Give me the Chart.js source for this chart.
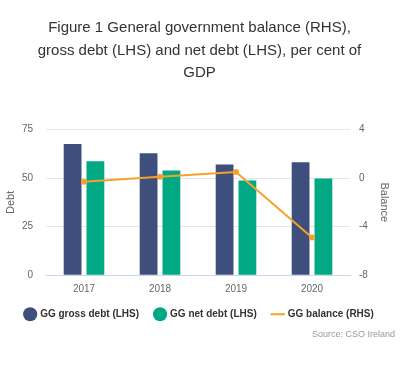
<!DOCTYPE html>
<html>
<head>
<meta charset="utf-8">
<script src="https://cdn.jsdelivr.net/npm/chart.js@4/dist/chart.umd.min.js"></script>
<style>
  html, body { margin: 0; padding: 0; background: #fff; }
  #wrap { width: 400px; height: 373px; }
</style>
</head>
<body>
<div id="wrap"><canvas id="chart" width="400" height="373"></canvas></div>
<script>
// dados
const years = ['2017', '2018', '2019', '2020'];
const grossDebt = [67.6, 62.8, 57.0, 58.2];
const netDebt = [58.6, 53.9, 48.8, 49.8];
const ggBalance = [-0.3, 0.1, 0.5, -4.9];
const debtTicks = [0, 25, 50, 75];
const balanceTicks = [-8, -4, 0, 4];

const titleLines = [
  'Figure 1 General government balance (RHS),',
  'gross debt (LHS) and net debt (LHS), per cent of',
  'GDP'
];

const navy = '#3e4f7d';
const green = '#00a983';
const orange = '#f7a12a';
const tickColor = '#666666';
const font = "'Liberation Sans', Arial, sans-serif";

const ctx = document.getElementById('chart');

new Chart(ctx, {
  data: {
    labels: years,
    datasets: [
      {
        type: 'line',
        label: 'GG balance (RHS)',
        data: ggBalance,
        yAxisID: 'yBalance',
        borderColor: orange,
        backgroundColor: orange,
        borderWidth: 2,
        pointRadius: 2,
        pointHoverRadius: 2,
        tension: 0,
        order: 0
      },
      {
        type: 'bar',
        label: 'GG gross debt (LHS)',
        data: grossDebt,
        yAxisID: 'yDebt',
        backgroundColor: navy,
        borderWidth: 0,
        categoryPercentage: 0.6,
        barPercentage: 0.78,
        order: 1
      },
      {
        type: 'bar',
        label: 'GG net debt (LHS)',
        data: netDebt,
        yAxisID: 'yDebt',
        backgroundColor: green,
        borderWidth: 0,
        categoryPercentage: 0.6,
        barPercentage: 0.78,
        order: 2
      }
    ]
  },
  options: {
    responsive: false,
    animation: false,
    layout: { padding: { left: 4, right: 5, top: 17, bottom: 33 } },
    plugins: {
      title: {
        display: true,
        text: titleLines,
        color: '#333333',
        font: { family: font, size: 15, weight: 'normal', lineHeight: 1.5 },
        padding: { top: 0, bottom: 45 }
      },
      subtitle: {
        display: true,
        text: 'Source: CSO Ireland',
        position: 'bottom',
        align: 'end',
        color: '#999999',
        font: { family: font, size: 9 },
        padding: { top: 0, bottom: 0 }
      },
      legend: {
        position: 'bottom',
        labels: {
          color: '#333333',
          font: { family: font, size: 10, weight: 'bold' },
          usePointStyle: true,
          boxWidth: 10,
          boxHeight: 10,
          padding: 16,
          sort: (a, b) => {
            const ord = [1, 2, 0];
            return ord.indexOf(a.datasetIndex) - ord.indexOf(b.datasetIndex);
          },
          generateLabels: (chart) => {
            const items = Chart.defaults.plugins.legend.labels.generateLabels(chart);
            items.forEach(it => {
              if (it.datasetIndex === 0) {
                it.pointStyle = 'line';
                it.strokeStyle = orange;
                it.lineWidth = 2;
              } else {
                it.pointStyle = 'circle';
                it.lineWidth = 0;
              }
            });
            return items;
          }
        }
      },
      tooltip: { enabled: false }
    },
    scales: {
      x: {
        afterFit: (axis) => { axis.height -= 10; },
        grid: { display: false, drawTicks: false },
        border: { color: '#ccd6eb', width: 1 },
        ticks: { color: tickColor, font: { family: font, size: 10 }, padding: 8 }
      },
      yDebt: {
        position: 'left',
        min: 0,
        max: 75,
        afterBuildTicks: (axis) => { axis.ticks = debtTicks.map(v => ({ value: v })); },
        afterFit: (axis) => { axis.width = 42; },
        grid: { color: '#e6e6e6', drawTicks: false },
        border: { display: false },
        ticks: { color: tickColor, font: { family: font, size: 10 }, padding: 13 },
        title: { display: true, text: 'Debt', color: tickColor, font: { family: font, size: 11 }, padding: { top: 0, bottom: 4 } }
      },
      yBalance: {
        position: 'right',
        min: -8,
        max: 4,
        afterBuildTicks: (axis) => { axis.ticks = balanceTicks.map(v => ({ value: v })); },
        afterFit: (axis) => { axis.width = 45; },
        grid: { display: false, drawTicks: false },
        border: { display: false },
        ticks: { color: tickColor, font: { family: font, size: 10 }, padding: 9 },
        title: { display: true, text: 'Balance', color: tickColor, font: { family: font, size: 11 }, padding: { top: 4, bottom: 0 } }
      }
    }
  }
});
</script>
</body>
</html>
